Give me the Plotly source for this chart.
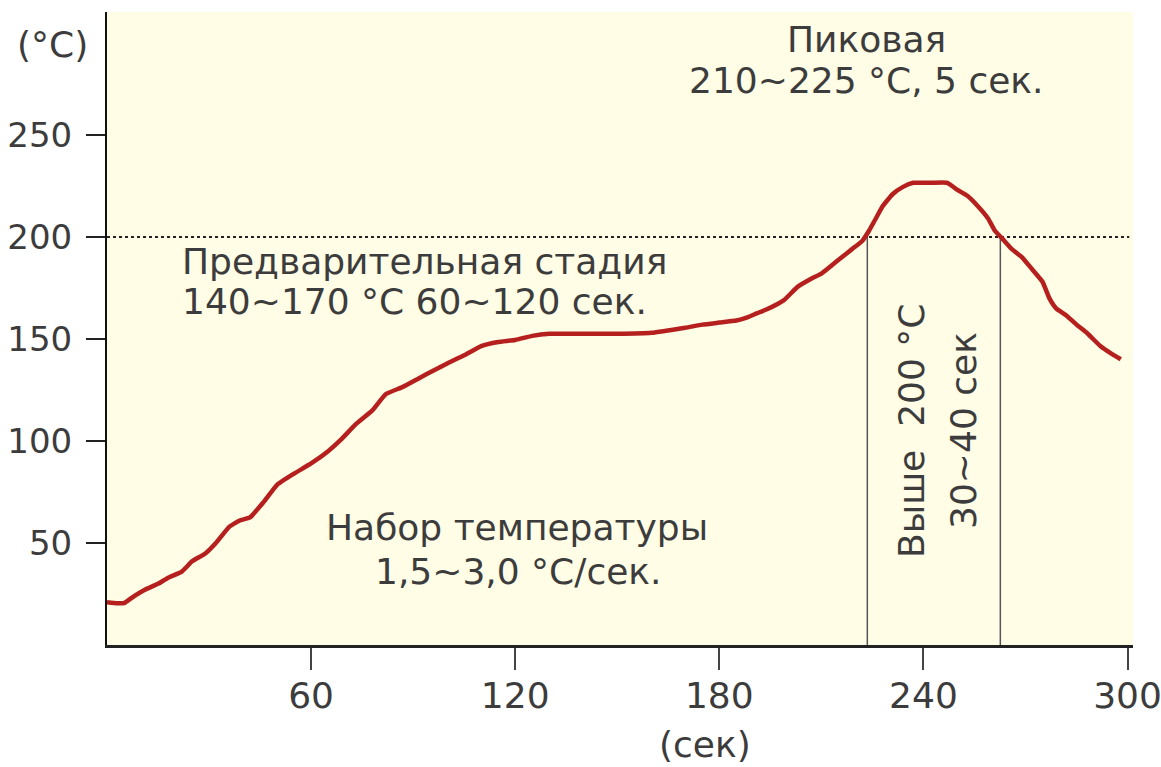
import plotly.graph_objects as go

# ---- data ----
time_s = [0, 3, 5, 8, 11, 15, 18, 22, 25, 29, 32, 36, 39, 42, 46, 50, 55, 60, 65, 69,
          73, 78, 82, 87, 92, 96, 100, 105, 110, 115, 120, 125, 130, 140, 150, 160,
          170, 175, 180, 185, 188, 191, 194, 199, 203, 207, 210, 213, 216, 219, 222,
          224, 226, 228, 231, 234, 237, 242, 247, 250, 253, 256, 259, 261, 263, 266,
          269, 272, 275, 277, 279, 282, 285, 288, 292, 295, 298]
temp_c = [21, 20.5, 20.5, 24, 27, 30, 33, 36, 41, 45, 50, 58, 61, 62.5, 70, 78.5, 84, 89, 95, 101,
          108, 115, 123, 126.5, 131, 134.5, 138, 142, 146.5, 148.5, 149.5, 151.5, 152.5, 152.5, 152.5, 153,
          155.5, 157, 158, 159, 160.4, 162.5, 164.5, 169, 175.5, 179.5, 182, 186, 190, 194, 198,
          203, 209, 215, 221, 224.5, 226.5, 226.5, 226.5, 223, 220, 215, 209, 203, 199.5, 194,
          190, 184, 178, 170, 165, 161.5, 157, 153, 146.5, 143, 140]

threshold_c = 200
cross_times = [223.5, 262.6]
x_ticks = [60, 120, 180, 240, 300]
y_ticks = [50, 100, 150, 200, 250]

FONT = "DejaVu Sans"
TXT = "#3c3c3c"
FS = 36

fig = go.Figure()

# dotted 200 °C line
fig.add_trace(go.Scatter(x=[0, 300.5], y=[threshold_c, threshold_c], mode="lines",
                         line=dict(color="#222", width=2, dash="dot"),
                         hoverinfo="skip", showlegend=False))
# vertical crossing lines
for ct in cross_times:
    fig.add_trace(go.Scatter(x=[ct, ct], y=[threshold_c, 0], mode="lines",
                             line=dict(color="#555", width=1.5),
                             hoverinfo="skip", showlegend=False))
# profile curve
fig.add_trace(go.Scatter(x=time_s, y=temp_c, mode="lines",
                         line=dict(color="#B5201F", width=4.5, shape="spline", smoothing=0.4),
                         showlegend=False))

annots = [
    dict(x=223.2, y=296.5, text="Пиковая", xanchor="center"),
    dict(x=223.2, y=276.4, text="210~225 °C, 5 сек.", xanchor="center"),
    dict(x=21.6, y=187.8, text="Предварительная стадия", xanchor="left"),
    dict(x=21.6, y=168.2, text="140~170 °C 60~120 сек.", xanchor="left"),
    dict(x=120.5, y=57.5, text="Набор температуры", xanchor="center"),
    dict(x=120.9, y=36, text="1,5~3,0 °C/сек.", xanchor="center"),
    dict(x=236.7, y=105, text="Выше  200 °C", xanchor="center", textangle=-90),
    dict(x=251.7, y=105, text="30~40 сек", xanchor="center", textangle=-90),
]
for a in annots:
    fig.add_annotation(xref="x", yref="y", yanchor="middle", showarrow=False,
                       font=dict(family=FONT, size=FS, color=TXT), **a)

fig.add_annotation(xref="paper", yref="paper", x=-0.053, y=0.948, text="(°C)",
                   showarrow=False, xanchor="center", yanchor="middle",
                   font=dict(family=FONT, size=FS, color=TXT))
fig.add_annotation(xref="x", yref="paper", x=175.9, y=-0.157, text="(сек)",
                   showarrow=False, xanchor="center", yanchor="middle",
                   font=dict(family=FONT, size=FS, color=TXT))

fig.update_layout(
    width=1161, height=767,
    margin=dict(l=106.5, r=28, t=12, b=121.6, autoexpand=False),
    paper_bgcolor="white", plot_bgcolor="#FFFDE6",
    font=dict(family=FONT, size=FS, color=TXT),
)
fig.update_xaxes(range=[0, 301.6], tickmode="array", tickvals=x_ticks,
                 ticktext=[str(v) for v in x_ticks], automargin=False,
                 ticklabeloverflow="allow",
                 showgrid=False, zeroline=False, showline=True, linecolor="#222", linewidth=3,
                 ticks="outside", ticklen=22, tickwidth=2, tickcolor="#444",
                 tickfont=dict(family=FONT, size=FS, color=TXT), ticklabelstandoff=-5)
fig.update_yaxes(range=[0, 310.2], tickmode="array", tickvals=y_ticks,
                 ticktext=[str(v) for v in y_ticks], automargin=False,
                 ticklabeloverflow="allow",
                 showgrid=False, zeroline=False, showline=True, linecolor="#111", linewidth=2,
                 ticks="outside", ticklen=19, tickwidth=2, tickcolor="#222",
                 tickfont=dict(family=FONT, size=34, color=TXT), ticklabelstandoff=7)

# remove the default 8px page margin so the figure fills the window exactly
fig.write_html("out.html", config={"displayModeBar": False},
               post_script="document.body.style.margin='0';")
